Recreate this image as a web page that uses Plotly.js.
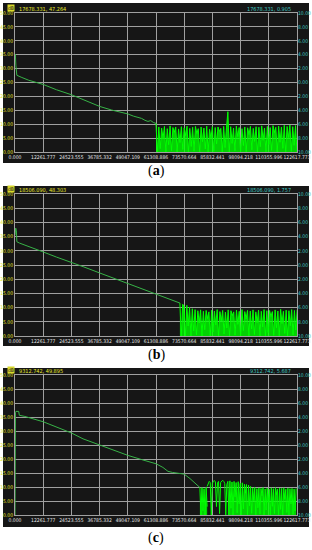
<!DOCTYPE html>
<html><head><meta charset="utf-8">
<script src="https://cdn.plot.ly/plotly-3.0.1.min.js"></script>
<style>html,body{margin:0;padding:0;background:#fff}#chart{width:312px;height:550px}</style>
</head><body><div id="chart"></div>
<script>
// ---- data ----
const xTickVals = [0, 12261.777, 24523.555, 36785.332, 49047.109, 61308.886, 73570.664, 85832.441, 98094.218, 110355.996, 122617.773];
const xTickText = ['0.000','12261.777','24523.555','36785.332','49047.109','61308.886','73570.664','85832.441','98094.218','110355.996','122617.773'];
const leftTickVals = [0,5,10,15,20,25,30,35,40,45,50];
const rightTickVals = [-10,-8,-6,-4,-2,0,2,4,6,8,10];
const rightTickText = ['10.00','8.00','6.00','4.00','2.00','0.00','2.00','4.00','6.00','8.00','10.00'];
const panelLabels = ['a','b','c'];
const cursorDist = ['17678.331','18506.090','9312.742'];
const cursorDb = ['47.264','48.303','49.895'];
const cursorSlope = ['0.905','1.757','5.687'];

// panel (a)
const trendAx = [0, 150, 400, 800, 3000, 6000, 12261, 18000, 24523, 30000, 36785, 42000, 46000, 49047, 51500, 53500, 55000, 56500, 57800, 59000, 60200, 61300];
const trendAy = [33.5, 35.2, 31.0, 27.6, 26.8, 25.8, 24.3, 22.4, 20.6, 18.6, 16.4, 15.1, 14.3, 13.7, 12.9, 12.4, 12.1, 11.4, 11.0, 11.3, 10.6, 10.3];
const noiseAStart = 61300, noiseAStep = 613;
const noiseA = [10.3,
 0.0, 9.0, 1.2, 8.6, 4.8, 9.2, 0.0, 8.4, 2.6, 9.4,
 0.5, 8.8, 7.1, 9.0, 0.0, 8.3, 3.4, 9.1, 0.9, 8.7,
 5.9, 9.3, 0.0, 8.5, 2.0, 8.9, 0.3, 9.2, 6.6, 8.4,
 0.0, 9.0, 3.7, 8.6, 1.1, 9.3, 0.0, 8.2, 4.9, 9.1,
 0.2, 8.8, 2.9, 9.0, 7.4, 8.5, 0.0, 9.2, 1.6, 8.7,
 14.5, 0.0, 9.1, 3.1, 8.6, 0.4, 9.3, 5.5, 8.8, 0.0,
 8.4, 2.3, 9.0, 0.0, 8.7, 6.3, 9.2, 0.8, 8.5, 3.8,
 9.1, 0.0, 8.9, 1.9, 9.4, 4.2, 8.6, 0.0, 9.2, 2.7,
 8.8, 0.6, 9.5, 7.0, 8.9, 0.0, 9.3, 3.5, 9.0, 1.3,
 9.6, 0.0, 9.2, 5.2, 9.7, 0.2, 9.1, 2.4, 9.5, 0.0];

// panel (b)
const trendBx = [0, 300, 600, 800, 2000, 6000, 12261, 18000, 24523, 30000, 36785, 42000, 49047, 54000, 58000, 61308, 64000, 66500, 68500, 70200, 71700];
const trendBy = [35.5, 38.0, 37.2, 33.2, 32.7, 31.4, 29.6, 27.8, 26.0, 24.3, 22.2, 20.6, 18.5, 17.0, 15.9, 14.9, 14.0, 13.3, 12.6, 12.1, 11.6];
const noiseBStart = 71700, noiseBStep = 600;
const noiseB = [11.6,
 0.0, 11.2, 10.5, 0.0, 10.8, 3.5, 10.1, 0.0, 9.6, 1.8,
 9.3, 0.4, 8.9, 4.6, 9.2, 0.0, 8.7, 2.2, 9.0, 6.1,
 8.5, 0.0, 9.1, 1.4, 8.8, 3.9, 9.3, 0.0, 8.6, 5.3,
 9.0, 0.7, 8.4, 2.8, 9.2, 0.0, 8.9, 7.2, 8.5, 0.3,
 9.1, 4.1, 8.7, 0.0, 9.3, 1.9, 8.6, 6.0, 9.0, 0.0,
 8.8, 2.5, 9.2, 0.5, 8.5, 4.7, 9.1, 0.0, 8.7, 3.2,
 9.3, 0.0, 8.9, 1.2, 9.0, 6.8, 8.6, 0.2, 9.2, 2.9,
 8.8, 0.0, 9.4, 4.4, 8.7, 0.9, 9.1, 0.0, 8.9, 3.6,
 9.3, 0.4, 9.0, 2.1, 9.2];

// panel (c)
const trendCx = [0, 0, 200, 400, 1600, 1900, 4300, 12261, 18000, 24523, 29570, 36785, 42000, 49047, 55000, 61308, 64300, 66500, 68500, 71000, 73570, 76100, 78300, 80400];
const trendCy = [0, 34.0, 36.5, 37.0, 37.0, 35.6, 35.2, 33.3, 31.4, 29.3, 27.2, 25.0, 23.2, 21.3, 19.8, 18.3, 17.0, 15.6, 15.2, 14.9, 14.6, 13.0, 11.4, 9.8];
const noiseC1Start = 80400, noiseCStep = 450;
const noiseC1 = [9.8, 0.0, 9.8, 1.5, 9.4, 0.0, 9.9, 3.0];
const arcsCStart = 83550;
const arcsC = [10.2, 11.5, 12.0, 11.6, 0.0, 11.2, 12.1, 12.3, 11.8, 3.0, 11.4, 12.0, 0.5, 11.6, 12.2, 12.4, 12.0, 11.3, 0.0, 10.8, 12.0];
const noiseC2Start = 92550;
const noiseC2 = [12.0,
 0.0, 12.2, 2.4, 11.8, 0.0, 12.0, 6.5, 11.6, 0.8, 11.9, 4.0, 11.3, 0.0, 11.5, 2.2, 11.0, 7.8, 10.9, 0.0, 10.7, 3.3,
 10.2, 0.6, 9.6, 5.1, 9.9, 0.0, 9.4, 2.6, 9.7, 0.3,
 9.5, 6.9, 9.8, 0.0, 9.3, 1.8, 9.6, 4.5, 9.2, 0.0,
 9.7, 3.1, 9.4, 0.5, 9.8, 7.3, 9.3, 0.0, 9.6, 2.0,
 9.5, 0.0, 9.7, 5.6, 9.2, 0.9, 9.6, 0.0, 9.4, 3.9,
 9.5, 0.2, 9.3, 1.4, 9.5];

// ---- layout geometry (pixels) ----
const W = 312, H = 550;
const plotL = 15, plotR = 297;
const panels = [
  {top: 13, bot: 152, boxTop: 3, boxBot: 163, labelY: 171, textY: 8},
  {top: 194, bot: 336, boxTop: 186, boxBot: 346, labelY: 355, textY: 189},
  {top: 375, bot: 515, boxTop: 368, boxBot: 527, labelY: 538, textY: 370}
];
const trendColor = '#37b347', noiseColor = '#00ff00', noiseFill = 'rgba(0,255,0,0.8)';
const gridColor = '#a0a0a0';
const fontFam = '"DejaVu Sans Condensed", "Liberation Sans Narrow", "DejaVu Sans", sans-serif';

const series = [
  {tx: trendAx, ty: trendAy, noise: [{x0: noiseAStart, dx: noiseAStep, y: noiseA, fill: true}]},
  {tx: trendBx, ty: trendBy, noise: [{x0: noiseBStart, dx: noiseBStep, y: noiseB, fill: true}]},
  {tx: trendCx, ty: trendCy, noise: [
    {x0: noiseC1Start, dx: noiseCStep, y: noiseC1, fill: true},
    {x0: arcsCStart, dx: noiseCStep, y: arcsC, fill: false},
    {x0: noiseC2Start, dx: noiseCStep, y: noiseC2, fill: true}]}
];

const data = [];
const layout = {
  width: W, height: H, margin: {l:0, r:0, t:0, b:0},
  paper_bgcolor: '#ffffff', plot_bgcolor: '#353535',
  showlegend: false, shapes: [], annotations: []
};
const py = p => 1 - p / H;
const px = p => p / W;

series.forEach((s, i) => {
  const k = i + 1;
  const xa = 'x' + (k === 1 ? '' : k), ya = 'y' + (k === 1 ? '' : k);
  const yr = 'y' + (k + 3);
  data.push({type: 'scatter', mode: 'lines', x: s.tx, y: s.ty, xaxis: xa, yaxis: ya,
    line: {color: trendColor, width: 1}, hoverinfo: 'skip'});
  s.noise.forEach(nz => {
    data.push({type: 'scatter', mode: 'lines', x0: nz.x0, dx: nz.dx, y: nz.y, xaxis: xa, yaxis: ya,
      line: {color: noiseColor, width: 1}, fill: nz.fill ? 'tozeroy' : 'none', fillcolor: noiseFill,
      hoverinfo: 'skip'});
  });
  data.push({type: 'scatter', mode: 'lines', x: [], y: [], xaxis: xa, yaxis: yr, hoverinfo: 'skip'});

  const p = panels[i];
  layout['xaxis' + (k === 1 ? '' : k)] = {
    domain: [px(plotL), px(plotR)], anchor: ya, range: [0, 122617.773],
    tickvals: xTickVals, ticktext: xTickText, tickangle: 0, ticks: '', showgrid: true, gridcolor: gridColor, gridwidth: 1,
    zeroline: false, showline: true, linecolor: gridColor, mirror: true,
    tickfont: {family: fontFam, size: 5, color: '#e6e6e6'}, fixedrange: true
  };
  layout['yaxis' + (k === 1 ? '' : k)] = {
    domain: [py(p.bot), py(p.top)], anchor: xa, range: [0, 50],
    tickvals: leftTickVals, tickformat: '.2f', ticks: '', showgrid: true, gridcolor: gridColor, gridwidth: 1,
    zeroline: false, showline: true, linecolor: gridColor, mirror: true,
    tickfont: {family: fontFam, size: 5, color: '#e8e82a'}, fixedrange: true
  };
  layout['yaxis' + (k + 3)] = {
    overlaying: ya, side: 'right', anchor: xa, range: [-10, 10],
    tickvals: rightTickVals, ticktext: rightTickText, ticks: '', showgrid: false, zeroline: false,
    tickfont: {family: fontFam, size: 5, color: '#3fc6c0'}, fixedrange: true
  };
  layout.shapes.push({type: 'rect', xref: 'paper', yref: 'paper', layer: 'below',
    x0: px(3), x1: px(309), y0: py(p.boxBot), y1: py(p.boxTop),
    fillcolor: '#161616', line: {width: 0}});
  layout.annotations.push({xref: 'paper', yref: 'paper', x: px(156), y: py(p.labelY),
    text: '(<b>' + panelLabels[i] + '</b>)', showarrow: false, xanchor: 'center', yanchor: 'middle',
    font: {family: '"Liberation Serif", "DejaVu Serif", serif', size: 14, color: '#000'}});
  layout.annotations.push({xref: 'paper', yref: 'paper', x: px(7), y: py(p.textY),
    text: 'dB', showarrow: false, xanchor: 'left', yanchor: 'middle',
    font: {family: fontFam, size: 5, color: '#222'}, bgcolor: '#d8d82a', borderpad: 0});
  layout.annotations.push({xref: 'paper', yref: 'paper', x: px(17), y: py(p.textY + 1),
    text: cursorDist[i] + ', ' + cursorDb[i], showarrow: false, xanchor: 'left', yanchor: 'middle',
    font: {family: fontFam, size: 5.5, color: '#e8e82a'}});
  layout.annotations.push({xref: 'paper', yref: 'paper', x: px(293), y: py(p.textY + 1),
    text: cursorDist[i] + ', ' + cursorSlope[i], showarrow: false, xanchor: 'right', yanchor: 'middle',
    font: {family: fontFam, size: 5.5, color: '#3fc6c0'}});
});

Plotly.newPlot('chart', data, layout, {staticPlot: true, displayModeBar: false});
</script></body></html>
